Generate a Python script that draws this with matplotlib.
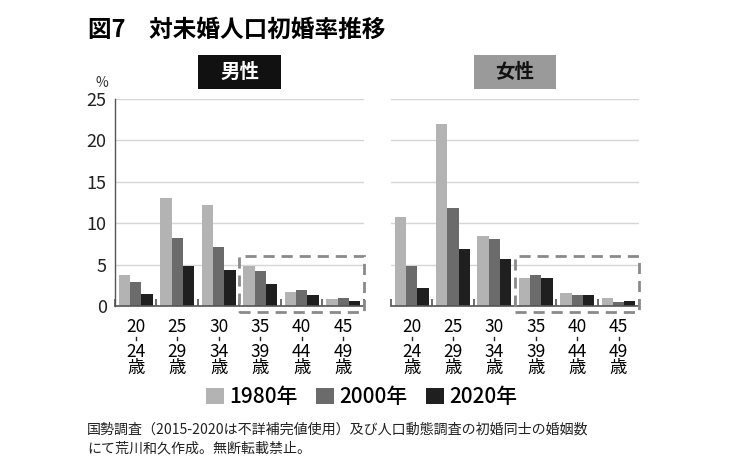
import numpy as np
import matplotlib
matplotlib.use('Agg')
import matplotlib.pyplot as plt
from matplotlib.patches import Rectangle, Patch
from matplotlib.transforms import blended_transform_factory

plt.rcParams['font.family'] = ['Noto Sans CJK JP', 'DejaVu Sans']

# データ（読み取り値, %）
ages_from = ['20', '25', '30', '35', '40', '45']
ages_to = ['24', '29', '34', '39', '44', '49']
years = ['1980年', '2000年', '2020年']
male_1980 = [3.8, 13.0, 12.2, 4.8, 1.7, 0.8]
male_2000 = [2.95, 8.25, 7.1, 4.25, 1.9, 0.95]
male_2020 = [1.4, 4.8, 4.4, 2.7, 1.3, 0.65]
female_1980 = [10.8, 22.05, 8.5, 3.4, 1.55, 0.95]
female_2000 = [4.8, 11.8, 8.05, 3.8, 1.3, 0.45]
female_2020 = [2.15, 6.9, 5.7, 3.4, 1.35, 0.55]

colors = ['#b3b3b3', '#6b6b6b', '#1f1f1f']
axis_c = '#555555'

fig = plt.figure(figsize=(7.5, 4.63), dpi=100)
axL = fig.add_axes([0.1533, 0.339, 0.332, 0.447])
axR = fig.add_axes([0.5213, 0.339, 0.331, 0.447])

x = np.arange(len(ages_from))
w = 0.273
for ax, series, left in ((axL, (male_1980, male_2000, male_2020), True),
                         (axR, (female_1980, female_2000, female_2020), False)):
    for k, s in enumerate(series):
        ax.bar(x + (k - 1) * w, s, width=w, color=colors[k], linewidth=0, zorder=2)
    ax.set_xlim(-0.5, 5.5)
    ax.set_ylim(0, 25)
    ax.set_yticks([0, 5, 10, 15, 20, 25])
    ax.grid(axis='y', color='#d6d6d6', linewidth=1.0, zorder=0)
    for sp in ('top', 'right'):
        ax.spines[sp].set_visible(False)
    ax.spines['bottom'].set_color(axis_c)
    ax.spines['bottom'].set_linewidth(1.2)
    ax.spines['bottom'].set_zorder(3)
    if left:
        ax.spines['left'].set_color(axis_c)
        ax.spines['left'].set_linewidth(1.0)
        ax.tick_params(axis='y', length=0, labelsize=13, pad=6, labelcolor='#222222')
    else:
        ax.spines['left'].set_visible(False)
        ax.tick_params(axis='y', length=0, labelleft=False)
    ax.set_xticks(np.arange(-0.5, 6.0, 1.0))
    ax.tick_params(axis='x', direction='in', length=5, width=1.2, color=axis_c,
                   labelbottom=False)
    # 破線の囲み
    ax.add_patch(Rectangle((2.5, -0.73), 3.0, 6.8, fill=False, edgecolor='#8a8a8a',
                           linewidth=2.0, linestyle=(0, (4, 2.5)), clip_on=False, zorder=4))
    # 年齢ラベル（縦書き風）
    tr = blended_transform_factory(ax.transData, ax.transAxes)
    for i in range(len(ages_from)):
        ax.text(i, -0.1, ages_from[i], transform=tr, ha='center', va='center', fontsize=12.5)
        ax.plot([i, i], [-0.148, -0.166], transform=tr, color='#222222', lw=1.0,
                clip_on=False)
        ax.text(i, -0.262, ages_to[i] + '\n歳', transform=tr, ha='center', va='center',
                fontsize=12.5, linespacing=0.85)

# タイトル
fig.text(0.117, 0.935, '図7　対未婚人口初婚率推移', fontsize=17, fontweight='bold',
         ha='left', va='center')

# 見出しボックス
fig.add_artist(Rectangle((0.264, 0.8078), 0.1107, 0.0734, transform=fig.transFigure,
                         facecolor='#111111', edgecolor='none'))
fig.text(0.264 + 0.1107 / 2, 0.8078 + 0.0734 / 2, '男性', color='white', fontsize=14,
         fontweight='bold', ha='center', va='center')
fig.add_artist(Rectangle((0.632, 0.8078), 0.109, 0.0734, transform=fig.transFigure,
                         facecolor='#9a9a9a', edgecolor='none'))
fig.text(0.632 + 0.109 / 2, 0.8078 + 0.0734 / 2, '女性', color='#111111', fontsize=14,
         fontweight='bold', ha='center', va='center')

fig.text(0.136, 0.8207, '%', fontsize=10, ha='center', va='center', color='#333333')

# 凡例
handles = [Patch(facecolor=c, edgecolor='none') for c in colors]
fig.legend(handles, years, loc='center', bbox_to_anchor=(0.482, 0.1425), ncol=3,
           frameon=False, handlelength=0.85, handleheight=0.85,
           handletextpad=0.25, columnspacing=0.9, prop={'size': 15, 'weight': 'medium'})

# 出典
fig.text(0.116, 1 - 430 / 463, '国勢調査（2015-2020は不詳補完値使用）及び人口動態調査の初婚同士の婚姻数',
         fontsize=10.1, ha='left', va='center', color='#222222')
fig.text(0.116, 1 - 448 / 463, 'にて荒川和久作成。無断転載禁止。',
         fontsize=10.1, ha='left', va='center', color='#222222')

fig.savefig('out.png', dpi=100, facecolor='white')
